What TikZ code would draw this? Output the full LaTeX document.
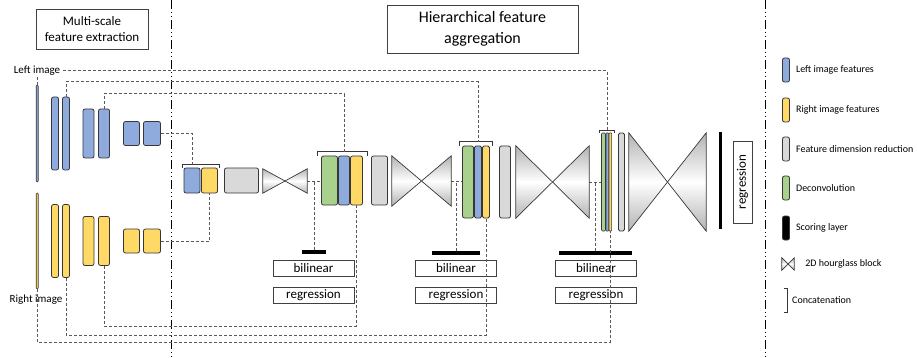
\documentclass[tikz,border=0pt]{standalone}
\usepackage{fontspec}
\setmainfont{Carlito}
\usetikzlibrary{positioning}
\definecolor{leftblue}{RGB}{143,170,220}
\definecolor{rightyellow}{RGB}{255,217,102}
\definecolor{reducegray}{RGB}{217,217,217}
\definecolor{deconvgreen}{RGB}{169,209,142}
\definecolor{edge}{RGB}{55,55,55}
\tikzset{
        block/.style = { draw=edge, line width=0.8pt, rounded corners=2pt, inner sep=0pt },
           wh/.style 2 args = { minimum width=#1pt, minimum height=#2pt },
     leftfeat/.style = { block, fill=leftblue },
    rightfeat/.style = { block, fill=rightyellow },
       reduce/.style = { block, fill=reducegray },
       deconv/.style = { block, fill=deconvgreen },
     scoreleg/.style = { block, fill=black },
        score/.style = { fill=black, inner sep=0pt, minimum height=3.5pt },
    hourglass/.style = { inner sep=0pt },
       hgfill/.style = { draw=edge, line width=0.7pt, top color=black!30, bottom color=black!30, middle color=white },
      bracket/.style = { draw=edge, line width=0.7pt },
         conn/.style = { draw=black!65, line width=0.7pt, dash pattern=on 3pt off 2pt },
       border/.style = { draw=black, line width=0.9pt, dash pattern=on 9pt off 3pt on 1pt off 3pt on 1pt off 3pt },
       outbox/.style = { draw=black!75, line width=0.7pt, minimum width=81pt, minimum height=16pt, inner sep=0pt, font=\fontsize{13}{15}\selectfont },
        title/.style = { draw=black!75, line width=0.7pt, align=center, inner sep=0pt },
       imglbl/.style = { font=\fontsize{11}{13}\selectfont, inner sep=0.5pt },
       legend/.style = { inner sep=0pt, font=\fontsize{10}{12}\selectfont }
}

\begin{document}
\begin{tikzpicture}[x=1pt, y=1pt]
  \useasboundingbox (0,0) rectangle (917,-358);

  % section borders
  \draw[border] (171,0) -- (171,-358);
  \draw[border] (765,0) -- (765,-358);

  % titles
  \node[title, wh={112}{40}, font=\fontsize{13}{16}\selectfont] (ttl1) at (92,-29) {Multi-scale\\feature extraction};
  \node[title, wh={191}{48}, font=\fontsize{16}{21}\selectfont] (ttl2) at (482.5,-29) {Hierarchical feature\\aggregation};

  % input images
  \node[leftfeat, wh={2}{97}, rounded corners=1pt, line width=0.6pt] (limg) at (37.2,-133.5) {};
  \node[rightfeat, wh={2}{96}, rounded corners=1pt, line width=0.6pt] (rimg) at (37.2,-241) {};

  % multi-scale features
  \foreach \n/\st/\y in {L/leftfeat/-133.5, R/rightfeat/-241} {
    \node[\st, wh={7}{73}] (\n1a) at (55,\y) {};
    \node[\st, wh={7}{73}] (\n1b) at (66,\y) {};
    \node[\st, wh={11}{49}] (\n2a) at (88.5,\y) {};
    \node[\st, wh={11}{49}] (\n2b) at (104,\y) {};
    \node[\st, wh={16}{24}] (\n3a) at (131.5,\y) {};
    \node[\st, wh={17}{24}] (\n3b) at (152,\y) {};
  }

  % stage 1
  \node[leftfeat, wh={16}{25}] (c1b) at (192,-180.5) {};
  \node[rightfeat, wh={16}{25}] (c1y) at (209.5,-180.5) {};
  \node[reduce, wh={34}{25}] (g1) at (241.5,-180.5) {};
  \node[hourglass, wh={44}{24}] (hg1) at (285,-181) {};

  % stage 2
  \node[deconv, wh={16}{49}] (c2g) at (329.5,-180.5) {};
  \node[leftfeat, wh={11}{49}] (c2b) at (344,-180.5) {};
  \node[rightfeat, wh={12}{49}] (c2y) at (356.5,-180.5) {};
  \node[reduce, wh={16}{49}] (g2) at (379.5,-180.5) {};
  \node[hourglass, wh={59}{50}] (hg2) at (421.5,-181) {};

  % stage 3
  \node[deconv, wh={11}{72}] (c3g) at (468,-182) {};
  \node[leftfeat, wh={7}{72}, rounded corners=1.5pt] (c3b) at (478,-182) {};
  \node[rightfeat, wh={7}{72}, rounded corners=1.5pt] (c3y) at (486,-182) {};
  \node[reduce, wh={11}{72}] (g3) at (505,-182) {};
  \node[hourglass, wh={73}{72}] (hg3) at (552.5,-182) {};

  % stage 4
  \node[deconv, wh={4}{98}, rounded corners=1pt, line width=0.6pt] (c4g) at (603.5,-182) {};
  \node[leftfeat, wh={2.5}{98}, rounded corners=0.5pt, line width=0.6pt] (c4b) at (607.3,-182) {};
  \node[rightfeat, wh={2.5}{98}, rounded corners=0.5pt, line width=0.6pt] (c4y) at (610.3,-182) {};
  \node[reduce, wh={6}{98}, rounded corners=1.5pt] (g4) at (621.5,-182) {};
  \node[hourglass, wh={77}{98}] (hg4) at (667.5,-182) {};
  \node[fill=black, inner sep=0pt, wh={3}{97}] (s4) at (720,-180.5) {};
  \node[outbox, rotate=90, wh={82}{19}] (reg4) at (742.5,-182) {regression};

  % concatenation brackets
  \foreach \l/\r/\s/\h in {c1b/c1y/1.5/3, c2g/c2y/4/4, c3g/c3y/2.5/4, c4g/c4y/2/2}
    \draw[bracket] ([xshift=-\s pt]\l.north west) -- ++(0,\h) -| ([xshift=\s pt]\r.north east);

  % scoring + outputs
  \node[score, minimum width=24pt] (s1) at (314,-252) {};
  \node[score, minimum width=48pt] (s2) at (456,-253) {};
  \node[score, minimum width=73pt] (s3) at (595.5,-253) {};
  \foreach \i/\x in {1/313.5, 2/456, 3/596} {
    \node[outbox] (bil\i) at (\x,-268) {bilinear};
    \node[outbox] (reg\i) at (\x,-295) {regression};
  }

  % skip connections
  \draw[conn] (L3b.east) -| ([yshift=3pt]c1b.north);
  \draw[conn] (R3b.east) -| (c1y.south);
  \draw[conn] (L2b.north) -- ++(0,15) -| ([yshift=4pt]c2b.north);
  \draw[conn] (R2b.south) -- ++(0,-60) -| (c2y.south);
  \draw[conn] (L1b.north) -- ++(0,15) -| ([yshift=4pt]c3b.north);
  \draw[conn] (R1b.south) -- ++(0,-57) -| (c3y.south);
  \draw[conn] (limg.north) -- ++(0,14) -| ([yshift=2pt]c4b.north);
  \draw[conn] (rimg.south) -- ++(0,-53) -| (c4y.south);

  % hourglass outputs
  \draw[conn] (hg1.east) -- (hg1.east -| c2g.west);
  \draw[conn] (s1.north) -- (s1.north |- hg1.east);
  \draw[conn] (hg2.east) -- (hg2.east -| c3g.west);
  \draw[conn] (s2.north) -- (s2.north |- hg2.east);
  \draw[conn] (hg3.east) -- (hg3.east -| c4g.west);
  \draw[conn] (s3.north) -- (s3.north |- hg3.east);

  % image labels
  \node[imglbl, fill=white] (limgtxt) at (37,-71) {Left image};
  \node[imglbl] (rimgtxt) at (36,-300) {Right image};

  % legend
  \foreach \n/\st/\y/\txt in {lb/leftfeat/70/Left image features, ly/rightfeat/110/Right image features, lg/reduce/149/Feature dimension reduction, ld/deconv/188/Deconvolution, ls/scoreleg/228/Scoring layer} {
    \node[\st, wh={7}{24}] (\n) at (786,-\y) {};
    \node[legend, right=6pt of \n] (\n-txt) {\txt};
  }
  \node[hourglass, wh={12}{12}] (lh) at (788,-264) {};
  \node[legend, right=11pt of lh] (lh-txt) {2D hourglass block};
  \coordinate (lc) at (787,-300);
  \draw[bracket] (784,-288) -| (lc) |- (784,-312);
  \node[legend, right=5pt of lc] (lc-txt) {Concatenation};

  % hourglass blocks
  \foreach \h in {hg1,hg2,hg3,hg4,lh} {
    \path[hgfill] (\h.north west) -- (\h.center) -- (\h.south west) -- cycle;
    \path[hgfill] (\h.north east) -- (\h.center) -- (\h.south east) -- cycle;
  }
\end{tikzpicture}
\end{document}
